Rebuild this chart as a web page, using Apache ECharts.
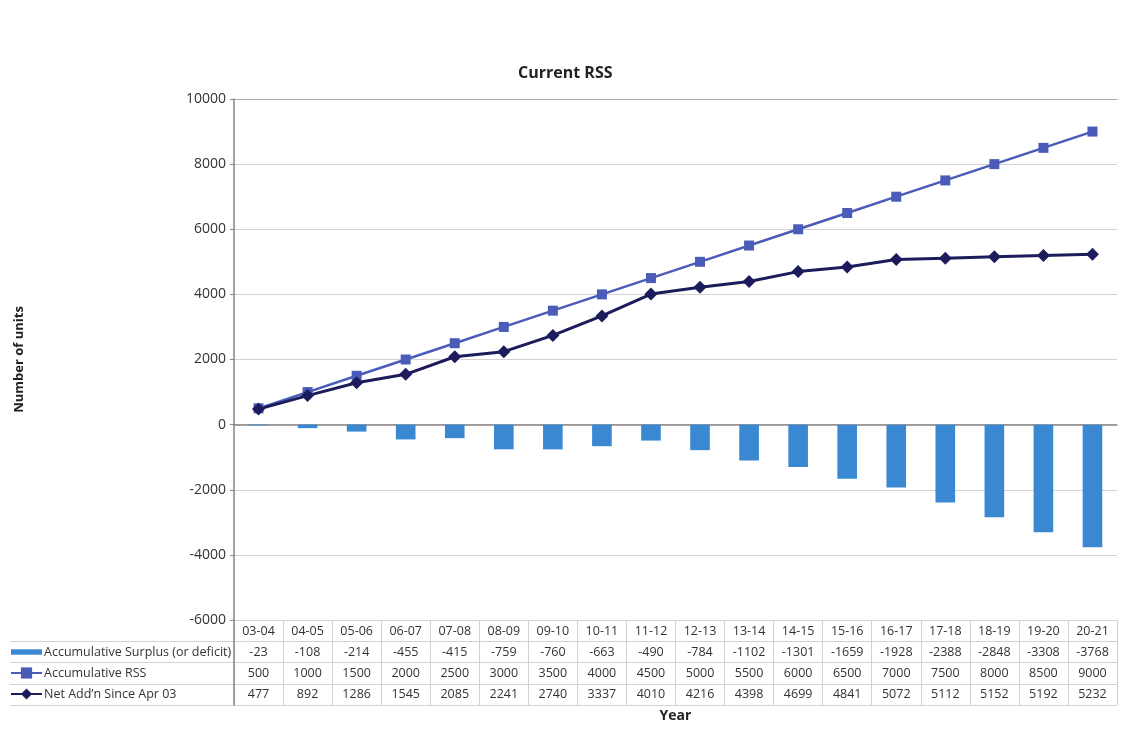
<!DOCTYPE html>
<html><head><meta charset="utf-8">
<script src="https://cdn.jsdelivr.net/npm/echarts@6/dist/echarts.min.js"></script>
<style>html,body{margin:0;padding:0;background:#fff}#c{width:1121px;height:731px}</style>
</head><body><div id="c"></div>
<script>
const years = ['03-04','04-05','05-06','06-07','07-08','08-09','09-10','10-11','11-12','12-13','13-14','14-15','15-16','16-17','17-18','18-19','19-20','20-21'];
const surplus = [-23,-108,-214,-455,-415,-759,-760,-663,-490,-784,-1102,-1301,-1659,-1928,-2388,-2848,-3308,-3768];
const rss = [500,1000,1500,2000,2500,3000,3500,4000,4500,5000,5500,6000,6500,7000,7500,8000,8500,9000];
const netAdd = [477,892,1286,1545,2085,2241,2740,3337,4010,4216,4398,4699,4841,5072,5112,5152,5192,5232];
const seriesNames = ['Accumulative Surplus (or deficit)', 'Accumulative RSS', 'Net Add\u2019n Since Apr 03'];
const yTicks = {min: -6000, max: 10000, interval: 2000};

const FONT = '"Open Sans", "DejaVu Sans", sans-serif';
const TXT = '#333';
const GRIDC = '#d6d0d0';
const AXC = '#8a8585';

function tableAxis(data, offset) {
  return {
    type: 'category', gridIndex: 0, position: 'bottom', offset: offset,
    data: data.map(String),
    axisLine: {show: false}, axisTick: {show: false}, splitLine: {show: false},
    axisLabel: {margin: 5, fontFamily: FONT, fontSize: 12.5, color: TXT, interval: 0}
  };
}

const chart = echarts.init(document.getElementById('c'), null, {renderer: 'canvas'});
chart.setOption({
  animation: false,
  backgroundColor: '#fff',
  title: {
    text: 'Current RSS', left: 513, top: 60,
    textStyle: {fontFamily: FONT, fontSize: 16, fontWeight: 'bold', color: '#222'}
  },
  legend: {
    orient: 'vertical', left: 10, top: 645, padding: 0, itemGap: 7, itemWidth: 31, itemHeight: 14,
    textStyle: {fontFamily: FONT, fontSize: 12.5, color: TXT, padding: [0, 0, 0, -3], lineHeight: 14},
    data: [
      {name: seriesNames[0], icon: 'path://M0,0H40V7H0Z'},
      {name: seriesNames[1]},
      {name: seriesNames[2]}
    ]
  },
  grid: [
    {left: 234, right: 4, top: 99, height: 521},
    {left: 234, right: 4, top: 620, height: 85},
    {left: 10, width: 224, top: 641.25, height: 63.75}
  ],
  xAxis: [
    {
      type: 'category', gridIndex: 0, position: 'bottom', data: years,
      axisLine: {show: true, lineStyle: {color: AXC, width: 1.5}},
      axisTick: {show: false}, splitLine: {show: false},
      axisLabel: {margin: 5, fontFamily: FONT, fontSize: 12.5, color: TXT, interval: 0},
      name: 'Year', nameLocation: 'middle', nameGap: 89,
      nameTextStyle: {fontFamily: FONT, fontSize: 14, fontWeight: 'bold', color: '#222'}
    },
    tableAxis(surplus, 21),
    tableAxis(rss, 42),
    tableAxis(netAdd, 63),
    {
      type: 'category', gridIndex: 0, position: 'top', data: years,
      axisLine: {show: true, lineStyle: {color: '#aaa', width: 1}},
      axisTick: {show: false}, axisLabel: {show: false}, splitLine: {show: false}
    },
    {
      type: 'category', gridIndex: 1, data: years,
      axisLine: {show: false}, axisTick: {show: false}, axisLabel: {show: false},
      splitLine: {show: true, interval: 0, lineStyle: {color: GRIDC, width: 1}}
    },
    {
      type: 'value', gridIndex: 2, min: 0, max: 1,
      axisLine: {show: false}, axisTick: {show: false}, axisLabel: {show: false}, splitLine: {show: false}
    }
  ],
  yAxis: [
    {
      type: 'value', gridIndex: 0, min: yTicks.min, max: yTicks.max, interval: yTicks.interval,
      axisLine: {show: true, lineStyle: {color: AXC, width: 1.5}},
      axisTick: {show: true, length: 4, lineStyle: {color: AXC}},
      axisLabel: {fontFamily: FONT, fontSize: 14, color: TXT, margin: 8, formatter: v => String(v)},
      splitLine: {show: true, lineStyle: {color: GRIDC, width: 1}},
      name: 'Number of units', nameLocation: 'middle', nameGap: 208,
      nameTextStyle: {fontFamily: FONT, fontSize: 13, fontWeight: 'bold', color: '#222'}
    },
    {
      type: 'value', gridIndex: 1, min: 0, max: 4, interval: 1,
      axisLine: {show: true, lineStyle: {color: AXC, width: 1.5}},
      axisTick: {show: false}, axisLabel: {show: false},
      splitLine: {show: true, lineStyle: {color: GRIDC, width: 1}}
    },
    {
      type: 'value', gridIndex: 2, min: 0, max: 3, interval: 1,
      axisLine: {show: false}, axisTick: {show: false}, axisLabel: {show: false},
      splitLine: {show: true, lineStyle: {color: GRIDC, width: 1}}
    }
  ],
  series: [
    {
      name: seriesNames[0], type: 'bar', xAxisIndex: 0, yAxisIndex: 0, data: surplus,
      barWidth: '40%', itemStyle: {color: '#3a88d2'}
    },
    {
      name: seriesNames[1], type: 'line', xAxisIndex: 0, yAxisIndex: 0, data: rss,
      symbol: 'rect', symbolSize: 10,
      lineStyle: {color: '#4a5bb8', width: 2.5}, itemStyle: {color: '#4a5bb8'}
    },
    {
      name: seriesNames[2], type: 'line', xAxisIndex: 0, yAxisIndex: 0, data: netAdd,
      symbol: 'diamond', symbolSize: 13,
      lineStyle: {color: '#1c1c5c', width: 3}, itemStyle: {color: '#1c1c5c'}
    }
  ]
});
</script>
</body></html>
